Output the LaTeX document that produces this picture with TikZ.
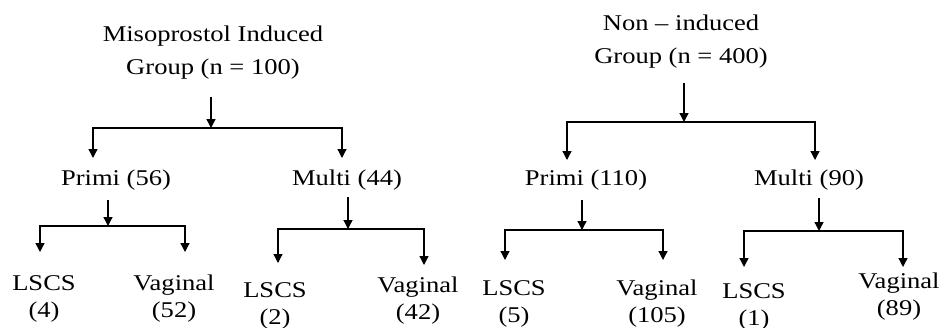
\documentclass[tikz,border=0pt]{standalone}
\usepackage{fontspec}
\setmainfont[FakeStretch=1.18]{Liberation Serif}
\usetikzlibrary{arrows.meta}
\begin{document}
\begin{tikzpicture}[x=1pt,y=-1pt,
  lbl/.style={inner sep=0pt, anchor=base, align=center, font=\fontsize{22.5}{33}\selectfont},
  leaf/.style={inner sep=0pt, anchor=base, align=center, font=\fontsize{22.5}{27}\selectfont},
  arr/.style={line width=1.3pt, -{Triangle[length=9pt,width=9pt]}}]
\useasboundingbox (0,0) rectangle (941,327);
% left tree (anchor = baseline of the last line)
\node[lbl] (root1) at (213,74) {Misoprostol Induced\\Group (n = 100)};
\node[lbl] (p1) at (116,185) {Primi (56)};
\node[lbl] (m1) at (347,185) {Multi (44)};
\node[leaf] (l1) at (44,317) {LSCS\\(4)};
\node[leaf] (v1) at (174,317) {Vaginal\\(52)};
\node[leaf] (l2) at (275,324) {LSCS\\(2)};
\node[leaf] (v2) at (418,319) {Vaginal\\(42)};
% right tree
\node[lbl] (root2) at (681,63) {Non – induced\\Group (n = 400)};
\node[lbl] (p2) at (586,185) {Primi (110)};
\node[lbl] (m2) at (809,185) {Multi (90)};
\node[leaf] (l3) at (514,322) {LSCS\\(5)};
\node[leaf] (v3) at (657,322) {Vaginal\\(105)};
\node[leaf] (l4) at (754,325) {LSCS\\(1)};
\node[leaf] (v4) at (899,315) {Vaginal\\(89)};
% junction coordinates
\coordinate (s1) at (211,97);  \coordinate (j1) at (211,128);
\coordinate (a1) at (93,158);  \coordinate (a2) at (342,158);
\coordinate (s2) at (108,200); \coordinate (j2) at (108,226);
\coordinate (a3) at (40,252);  \coordinate (a4) at (185,252);
\coordinate (s3) at (348,197); \coordinate (j3) at (348,229);
\coordinate (a5) at (278,263); \coordinate (a6) at (424,265);
\coordinate (s4) at (684,83);  \coordinate (j4) at (684,122);
\coordinate (a7) at (567,160); \coordinate (a8) at (815,160);
\coordinate (s5) at (582,200); \coordinate (j5) at (582,230);
\coordinate (a9) at (505,260); \coordinate (a10) at (663,260);
\coordinate (s6) at (819,198); \coordinate (j6) at (819,231);
\coordinate (a11) at (744,267); \coordinate (a12) at (903,267);
% connectors
\foreach \s/\j/\a/\b in {s1/j1/a1/a2, s2/j2/a3/a4, s3/j3/a5/a6, s4/j4/a7/a8, s5/j5/a9/a10, s6/j6/a11/a12}{
  \draw[arr] (\s) -- (\j);
  \draw[arr] (\j) -| (\a);
  \draw[arr] (\j) -| (\b);
}
\end{tikzpicture}
\end{document}
